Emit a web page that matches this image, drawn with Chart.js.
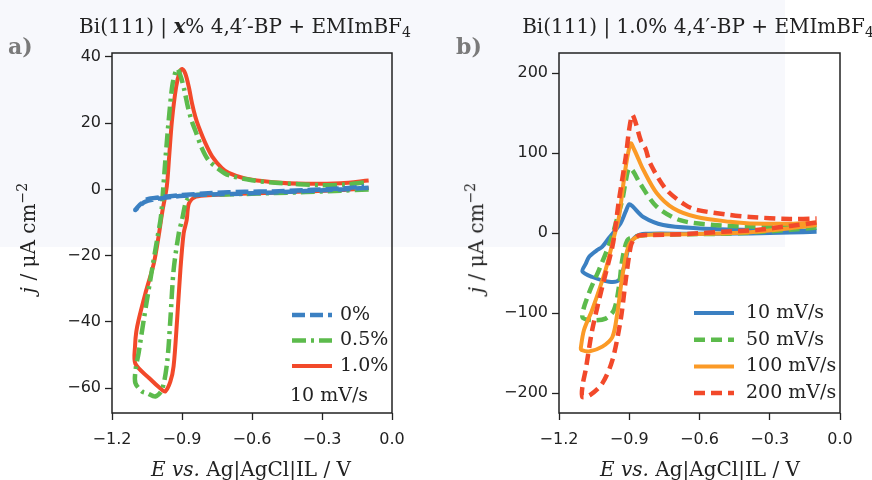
<!DOCTYPE html>
<html>
<head>
<meta charset="utf-8">
<script src="https://cdn.jsdelivr.net/npm/chart.js@4.4.1/dist/chart.umd.min.js"></script>
<style>
  body { margin: 0; background: #fff; }
  #wrap { position: relative; width: 872px; height: 480px; overflow: hidden; }
  #tint { position: absolute; left: 0; top: 0; width: 785px; height: 247px; background: #f7f8fc; }
  canvas { position: absolute; top: 0; }
  .lbl { position: absolute; font-family: "DejaVu Serif", serif; color: #222; white-space: nowrap; }
  .ttl { font-size: 20px; transform: translateX(-50%); }
  .xt { font-size: 20px; transform: translateX(-50%); }
  .yt { font-size: 20px; transform: translate(-50%, -50%) rotate(-90deg); }
  .pn { font-size: 22px; font-weight: bold; color: #7a7a7a; }
  sub { font-size: 70%; vertical-align: -0.25em; }
  sup { font-size: 70%; vertical-align: 0.55em; }
</style>
</head>
<body>
<div id="wrap">
  <div id="tint"></div>
  <canvas id="chartA" width="436" height="480" style="left:0"></canvas>
  <canvas id="chartB" width="436" height="480" style="left:436px"></canvas>

  <div class="lbl pn" style="left:8px; top:33px">a)</div>
  <div class="lbl pn" style="left:456px; top:33px">b)</div>
  <div class="lbl ttl" style="left:245px; top:14px">Bi(111) | <b><i>x</i></b>% 4,4′-BP + EMImBF<sub>4</sub></div>
  <div class="lbl ttl" style="left:698px; top:14px">Bi(111) | 1.0% 4,4′-BP + EMImBF<sub>4</sub></div>
  <div class="lbl xt" style="left:251px; top:457px"><i>E vs.</i> Ag|AgCl|IL / V</div>
  <div class="lbl xt" style="left:700px; top:457px"><i>E vs.</i> Ag|AgCl|IL / V</div>
  <div class="lbl yt" style="left:27px; top:238px"><i>j</i> / μA cm<sup>−2</sup></div>
  <div class="lbl yt" style="left:475px; top:238px"><i>j</i> / μA cm<sup>−2</sup></div>
</div>

<script>
// tick labels
const TICKS_X = [-1.2, -0.9, -0.6, -0.3, 0.0];
const TICKS_YA = [-60, -40, -20, 0, 20, 40];
const TICKS_YB = [-200, -100, 0, 100, 200];

// panel a: 10 mV/s, different 4,4'-BP concentrations (E in V, j in uA/cm2)
const LABELS_A = ["0%", "0.5%", "1.0%"];
const E_A0 = [-0.10, -0.22, -0.37, -0.51, -0.65, -0.77, -0.91, -1.01, -1.06, -1.10,
              -1.08, -1.05, -1.00, -0.90, -0.77, -0.63, -0.51, -0.37, -0.22, -0.12];
const J_A0 = [0.5, 0.0, -0.5, -0.9, -1.3, -1.5, -2.0, -2.9, -3.8, -6.2,
              -4.6, -3.0, -2.4, -1.7, -1.1, -0.7, -0.6, -0.2, 0.3, 0.9];
const E_A05 = [-0.10, -0.22, -0.37, -0.51, -0.65, -0.77, -0.843, -0.879, -0.90, -0.914,
               -0.936, -0.95, -0.964, -0.986, -1.014, -1.05, -1.071, -1.10, -1.098, -1.086,
               -1.064, -1.029, -1.007, -0.99, -0.98, -0.97, -0.957, -0.94, -0.921, -0.905,
               -0.89, -0.875, -0.86, -0.843, -0.815, -0.786, -0.74, -0.70, -0.60, -0.50,
               -0.30, -0.20, -0.10];
const J_A05 = [0.0, -0.4, -0.8, -1.1, -1.4, -1.6, -1.7, -3.2, -9.2, -13.3,
               -24.4, -39.4, -52.4, -60.5, -62.5, -61.5, -61.0, -58.4, -54.0, -49.4,
               -39.4, -24.4, -15.3, -8.0, 0.8, 10.0, 20.8, 32.0, 36.4, 34.0,
               30.0, 25.0, 21.0, 17.8, 12.5, 8.8, 6.0, 4.3, 2.8, 2.0,
               1.3, 1.5, 2.3];
const E_A10 = [-0.10, -0.22, -0.37, -0.51, -0.65, -0.77, -0.84, -0.87, -0.88, -0.893,
               -0.907, -0.921, -0.936, -0.95, -0.972, -0.986, -1.04, -1.10, -1.101, -1.096,
               -1.086, -1.057, -1.021, -1.00, -0.985, -0.965, -0.955, -0.943, -0.925, -0.91,
               -0.90, -0.886, -0.871, -0.857, -0.843, -0.829, -0.80, -0.771, -0.73, -0.70,
               -0.63, -0.51, -0.37, -0.22, -0.10];
const J_A10 = [0.4, -0.2, -0.6, -1.0, -1.3, -1.7, -2.2, -4.2, -9.3, -13.3,
               -24.4, -39.4, -53.4, -58.0, -61.0, -60.5, -57.0, -52.6, -47.0, -43.0,
               -39.4, -31.4, -22.4, -14.0, -7.0, 1.0, 10.0, 20.8, 31.0, 35.5,
               36.4, 35.0, 31.0, 26.0, 22.0, 19.0, 14.0, 10.0, 6.5, 5.0,
               3.3, 2.2, 1.7, 1.9, 2.7];

// panel b: 1.0% 4,4'-BP, different scan rates
const LABELS_B = ["10 mV/s", "50 mV/s", "100 mV/s", "200 mV/s"];
const E_B10 = [-0.10, -0.214, -0.384, -0.50, -0.64, -0.83, -0.872, -0.901, -0.922, -0.944,
               -0.986, -1.058, -1.10, -1.085, -1.072, -1.04, -1.015, -0.986, -0.958, -0.937,
               -0.915, -0.90, -0.885, -0.84, -0.755, -0.612, -0.384, -0.214, -0.10];
const J_B10 = [1.5, 0.5, -0.5, -0.8, -1.0, -1.0, -4.6, -17, -42, -59,
               -61, -55, -48, -38, -30, -22, -17, -6, 4, 12,
               27, 36, 33, 20, 10, 6, 3.8, 3.0, 3.0];
const E_B50 = [-0.10, -0.214, -0.384, -0.50, -0.64, -0.83, -0.88, -0.908, -0.93, -0.944,
               -0.965, -1.001, -1.058, -1.10, -1.072, -1.029, -0.979, -0.95, -0.93, -0.915,
               -0.901, -0.885, -0.854, -0.783, -0.683, -0.541, -0.384, -0.214, -0.10];
const J_B50 = [7, 4, 0.5, -1, -1.5, -2.5, -5, -9, -34, -67,
               -96, -107, -109, -105, -75, -46, -9, 20, 41, 65,
               81, 78, 62, 33, 16, 10, 8, 8, 9];
const E_B100 = [-0.10, -0.214, -0.384, -0.50, -0.64, -0.83, -0.88, -0.908, -0.93, -0.951,
                -0.972, -1.015, -1.072, -1.105, -1.107, -1.093, -1.058, -1.001, -0.965, -0.944,
                -0.915, -0.894, -0.88, -0.86, -0.84, -0.783, -0.712, -0.612, -0.47, -0.384,
                -0.214, -0.10];
const J_B100 = [10, 6, 1, -0.5, -1.5, -2.5, -7, -21, -55, -100,
                -130, -142, -148, -146, -144, -121, -96, -46, -4.6, 20,
                83, 112, 105, 92, 79, 50, 31, 20, 14, 12,
                11.5, 13];
const E_B200 = [-0.10, -0.214, -0.356, -0.498, -0.64, -0.80, -0.858, -0.88, -0.894, -0.915,
                -0.937, -0.972, -1.015, -1.065, -1.10, -1.099, -1.086, -1.058, -1.015, -0.972,
                -0.958, -0.944, -0.915, -0.90, -0.887, -0.875, -0.85, -0.83, -0.812, -0.744,
                -0.66, -0.612, -0.47, -0.384, -0.214, -0.10];
const J_B200 = [13, 8.8, 3.8, 1.6, -1.0, -2.5, -3, -8, -17, -59,
                -109, -159, -188, -202, -205, -190, -171, -121, -67, -17,
                10, 41, 95, 130, 147.5, 140, 115, 105, 88, 55,
                35, 29, 22.5, 20, 17.5, 18];

const BLUE = "#3b80c2", GREEN = "#5cbb4c", RED = "#f2492a", ORANGE = "#fb9a26";

function pts(E, J) { return E.map((e, i) => ({ x: e, y: J[i] })); }
function fmt(v, d) { return (v < 0 ? "\u2212" : "") + Math.abs(v).toFixed(d); }

// frame box + legend inside the plot area
const boxLegend = {
  id: "boxLegend",
  afterDraw(chart, args, opts) {
    const { ctx, chartArea: a } = chart;
    ctx.save();
    ctx.strokeStyle = "#222";
    ctx.lineWidth = 1.5;
    ctx.strokeRect(a.left, a.top, a.right - a.left, a.bottom - a.top);
    ctx.font = "19px 'DejaVu Serif'";
    ctx.textBaseline = "middle";
    chart.data.datasets.forEach((ds, i) => {
      const y = opts.y0 + i * opts.dy;
      ctx.strokeStyle = ds.borderColor;
      ctx.lineWidth = ds.borderWidth;
      ctx.setLineDash(ds.borderDash || []);
      ctx.beginPath();
      ctx.moveTo(a.right - opts.x0, y);
      ctx.lineTo(a.right - opts.x0 + opts.len, y);
      ctx.stroke();
      ctx.setLineDash([]);
      ctx.fillStyle = "#222";
      ctx.fillText(ds.label, a.right - opts.tx, y);
    });
    if (opts.note) ctx.fillText(opts.note, a.right - opts.x0 - 2, opts.noteY);
    ctx.restore();
  }
};

function makeChart(id, datasets, yTicks, yMin, yMax, leftW, rightPad, legend) {
  return new Chart(document.getElementById(id), {
    type: "scatter",
    data: { datasets: datasets },
    plugins: [boxLegend],
    options: {
      responsive: false,
      animation: false,
      devicePixelRatio: 1,
      layout: { padding: { top: 53, right: rightPad, left: 0, bottom: 0 } },
      elements: { point: { radius: 0 }, line: { tension: 0.3, borderCapStyle: "butt" } },
      plugins: { legend: { display: false }, tooltip: { enabled: false }, boxLegend: legend },
      scales: {
        x: {
          min: -1.2, max: 0.0,
          afterBuildTicks: s => { s.ticks = TICKS_X.map(v => ({ value: v })); },
          afterFit: s => { s.height = 67; },
          grid: { drawOnChartArea: false, tickLength: 7, color: "#222", tickWidth: 1.3 },
          border: { display: false },
          ticks: { color: "#222", font: { family: "DejaVu Sans", size: 16 }, padding: 10,
                   maxRotation: 0, callback: v => fmt(v, 1) }
        },
        y: {
          min: yMin, max: yMax,
          afterBuildTicks: s => { s.ticks = yTicks.map(v => ({ value: v })); },
          afterFit: s => { s.width = leftW; },
          grid: { drawOnChartArea: false, tickLength: 7, color: "#222", tickWidth: 1.3 },
          border: { display: false },
          ticks: { color: "#222", font: { family: "DejaVu Sans", size: 16 }, padding: 4,
                   callback: v => fmt(v, 0) }
        }
      }
    }
  });
}

const setA = [
  { label: LABELS_A[0], data: pts(E_A0, J_A0), borderColor: BLUE, borderWidth: 4.5, borderDash: [13, 5], showLine: true },
  { label: LABELS_A[1], data: pts(E_A05, J_A05), borderColor: GREEN, borderWidth: 4.5, borderDash: [14, 5, 3, 5], showLine: true },
  { label: LABELS_A[2], data: pts(E_A10, J_A10), borderColor: RED, borderWidth: 4, showLine: true }
];

const setB = [
  { label: LABELS_B[0], data: pts(E_B10, J_B10), borderColor: BLUE, borderWidth: 4, showLine: true, order: 3 },
  { label: LABELS_B[1], data: pts(E_B50, J_B50), borderColor: GREEN, borderWidth: 4.5, borderDash: [11, 6], showLine: true, order: 2 },
  { label: LABELS_B[2], data: pts(E_B100, J_B100), borderColor: ORANGE, borderWidth: 4, showLine: true, order: 1 },
  { label: LABELS_B[3], data: pts(E_B200, J_B200), borderColor: RED, borderWidth: 4.5, borderDash: [11, 6], showLine: true, order: 0 }
];

makeChart("chartA", setA, TICKS_YA, -67.5, 41.2, 112, 44,
  { x0: 100, len: 40, tx: 52, y0: 315, dy: 25.5, note: "10 mV/s", noteY: 396 });
makeChart("chartB", setB, TICKS_YB, -225, 225, 123, 32,
  { x0: 146, len: 40, tx: 94, y0: 313, dy: 26.7 });
</script>
</body>
</html>
